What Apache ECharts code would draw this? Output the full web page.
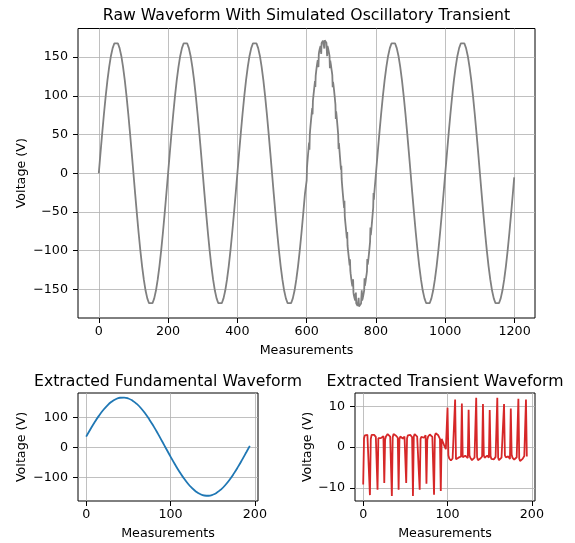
<!DOCTYPE html>
<html><head><meta charset="utf-8">
<script src="https://cdn.jsdelivr.net/npm/echarts@6/dist/echarts.min.js"></script>
<style>html,body{margin:0;padding:0;background:#fff}#c{width:575px;height:543px}</style>
</head><body><div id="c"></div>
<script>
// ---------- Data ----------
// Raw waveform, x = 0..595 (step 5)
const rawStep = 5;
const rawBefore = [
0, 26.6, 52.5, 77.2, 99.9, 120.2, 137.5, 151.5, 161.7, 167.9, 170, 167.9, 161.7, 151.5, 137.5, 120.2, 99.9, 77.2, 52.5, 26.6,
0, -26.6, -52.5, -77.2, -99.9, -120.2, -137.5, -151.5, -161.7, -167.9, -170, -167.9, -161.7, -151.5, -137.5, -120.2, -99.9, -77.2, -52.5, -26.6,
0, 26.6, 52.5, 77.2, 99.9, 120.2, 137.5, 151.5, 161.7, 167.9, 170, 167.9, 161.7, 151.5, 137.5, 120.2, 99.9, 77.2, 52.5, 26.6,
0, -26.6, -52.5, -77.2, -99.9, -120.2, -137.5, -151.5, -161.7, -167.9, -170, -167.9, -161.7, -151.5, -137.5, -120.2, -99.9, -77.2, -52.5, -26.6,
0, 26.6, 52.5, 77.2, 99.9, 120.2, 137.5, 151.5, 161.7, 167.9, 170, 167.9, 161.7, 151.5, 137.5, 120.2, 99.9, 77.2, 52.5, 26.6,
0, -26.6, -52.5, -77.2, -99.9, -120.2, -137.5, -151.5, -161.7, -167.9, -170, -167.9, -161.7, -151.5, -137.5, -120.2, -99.9, -77.2, -52.5, -26.6
];
// Raw waveform with the transient, x = 600..794 (step 1)
const rawWindowStart = 600;
const rawWindow = [
-9.2, 7.5, 13.6, 19.1, 24.5, 29.6, 34.8, 39.7, 30.5, 49.4,
55.5, 60.9, 65.8, 70.5, 75.2, 79.7, 84.2, 76.0, 93.3, 98.1,
102.3, 106.4, 110.5, 114.8, 119.1, 111.4, 125.8, 130.1, 134.0, 137.5,
140.6, 143.5, 146.1, 148.6, 137.0, 153.9, 157.0, 159.3, 161.2, 162.8,
164.3, 165.6, 154.2, 167.9, 169.6, 170.4, 171.0, 171.3, 171.9, 172.5,
172.8, 161.1, 171.9, 172.1, 171.9, 171.1, 170.0, 168.6, 167.1, 151.3,
164.3, 163.2, 161.1, 158.8, 156.4, 153.9, 151.2, 135.8, 145.5, 143.1,
139.9, 136.5, 133.3, 130.2, 126.8, 111.2, 118.2, 115.0, 111.4, 107.3,
102.9, 98.4, 93.6, 88.8, 70.2, 80.0, 75.8, 71.0, 65.8, 60.5,
55.0, 49.4, 31.5, 39.1, 33.4, 27.6, 21.7, 16.0, 10.2, 4.7,
9.7, -7.3, -13.5, -19.2, -24.6, -29.7, -34.7, -39.7, -44.8, -35.7,
-55.5, -60.9, -65.6, -70.1, -74.7, -79.4, -84.2, -75.8, -93.6, -98.0,
-102.1, -106.3, -110.6, -114.8, -119.1, -111.0, -125.9, -130.1, -134.0, -137.5,
-140.6, -143.5, -146.1, -148.6, -136.9, -153.9, -157.0, -159.3, -161.2, -162.8,
-164.3, -165.6, -154.1, -167.9, -169.6, -170.4, -171.0, -171.3, -171.9, -172.5,
-160.9, -172.1, -172.6, -172.4, -171.9, -170.9, -169.7, -168.3, -167.0, -151.2,
-164.3, -163.2, -161.1, -158.8, -156.4, -153.9, -151.2, -135.7, -145.5, -143.1,
-139.9, -136.5, -133.3, -130.2, -126.8, -110.7, -118.2, -115.0, -111.4, -107.3,
-102.9, -98.4, -93.6, -88.8, -70.0, -80.0, -75.8, -71.0, -65.8, -60.5,
-55.0, -49.6, -44.7, -25.4, -34.2
];
// Raw waveform, x = 795..1195 (step 5)
const rawAfterStart = 795;
const rawAfter = [
-26.6,
0, 26.6, 52.5, 77.2, 99.9, 120.2, 137.5, 151.5, 161.7, 167.9, 170, 167.9, 161.7, 151.5, 137.5, 120.2, 99.9, 77.2, 52.5, 26.6,
0, -26.6, -52.5, -77.2, -99.9, -120.2, -137.5, -151.5, -161.7, -167.9, -170, -167.9, -161.7, -151.5, -137.5, -120.2, -99.9, -77.2, -52.5, -26.6,
0, 26.6, 52.5, 77.2, 99.9, 120.2, 137.5, 151.5, 161.7, 167.9, 170, 167.9, 161.7, 151.5, 137.5, 120.2, 99.9, 77.2, 52.5, 26.6,
0, -26.6, -52.5, -77.2, -99.9, -120.2, -137.5, -151.5, -161.7, -167.9, -170, -167.9, -161.7, -151.5, -137.5, -120.2, -99.9, -77.2, -52.5, -26.6
];
const rawLast = [1199, -5.3];

// Extracted fundamental, x = 0..190 (step 5) + last sample at 194
const fundStep = 5;
const fundamental = [
36.5, 61.3, 84.8, 106.2, 125.0, 140.9, 153.4, 162.2, 167.0, 167.8,
164.6, 157.3, 146.3, 131.8, 114.0, 93.6, 70.9, 46.5, 21.1, -4.8,
-30.5, -55.3, -78.8, -100.2, -119.0, -134.9, -147.4, -156.2, -161.0, -161.8,
-158.6, -151.3, -140.3, -125.8, -108.0, -87.6, -64.9, -40.5, -15.1
];
const fundLast = [194, 5.6];

// Extracted transient, x = 0..194 (step 1)
const transient = [
-9.2, 2.2, 2.9, 3.1, 3.2, 3.0, 2.9, 2.6, -11.8, 2.0,
3.0, 3.3, 3.2, 3.0, 2.8, 2.5, 2.3, -10.5, 2.2, 2.5,
2.4, 2.2, 2.1, 2.4, 2.7, -8.8, 1.9, 2.6, 3.0, 3.2,
3.1, 2.9, 2.6, 2.3, -12.0, 2.4, 3.2, 3.3, 3.1, 2.8,
2.6, 2.3, -10.5, 2.0, 2.6, 2.5, 2.3, 2.1, 2.2, 2.6,
2.8, -8.8, 2.2, 2.9, 3.2, 3.2, 3.0, 2.7, 2.4, -12.0,
2.6, 3.2, 3.0, 2.8, 2.6, 2.4, 2.2, -10.5, 2.0, 2.5,
2.4, 2.2, 2.3, 2.7, 2.9, -9.0, 1.8, 2.6, 3.0, 3.1,
3.0, 2.8, 2.5, 2.3, -11.7, 2.8, 3.4, 3.5, 3.2, 2.9,
2.5, 2.0, -10.8, 2.0, 1.5, 1.0, 0.4, 0.0, -0.5, -0.6,
9.7, -2.0, -2.8, -3.2, -3.3, -3.1, -2.8, -2.6, -2.5, 11.7,
-3.0, -3.3, -3.0, -2.6, -2.3, -2.2, -2.3, 10.7, -2.5, -2.4,
-2.2, -2.1, -2.2, -2.4, -2.7, 9.2, -2.0, -2.6, -3.0, -3.2,
-3.1, -2.9, -2.6, -2.3, 12.1, -2.4, -3.2, -3.3, -3.1, -2.8,
-2.6, -2.3, 10.6, -2.0, -2.6, -2.5, -2.3, -2.1, -2.2, -2.6,
9.1, -2.2, -2.9, -3.2, -3.2, -3.0, -2.7, -2.4, -2.3, 12.1,
-2.6, -3.2, -3.0, -2.8, -2.6, -2.4, -2.2, 10.6, -2.0, -2.5,
-2.4, -2.2, -2.3, -2.7, -2.9, 9.5, -1.8, -2.6, -3.0, -3.1,
-3.0, -2.8, -2.5, -2.3, 11.9, -2.8, -3.4, -3.5, -3.2, -2.9,
-2.5, -2.2, -2.4, 11.7, -2.3
];

// Tick values
const rawXTicks = [0, 200, 400, 600, 800, 1000, 1200];
const rawYTicks = [-150, -100, -50, 0, 50, 100, 150];
const subXTicks = [0, 100, 200];
const fundYTicks = [-100, 0, 100];
const transYTicks = [-10, 0, 10];

// ---------- Build series data ----------
const rawData = rawBefore.map((v, i) => [i * rawStep, v])
  .concat(rawWindow.map((v, i) => [rawWindowStart + i, v]))
  .concat(rawAfter.map((v, i) => [rawAfterStart + i * rawStep, v]))
  .concat([rawLast]);
const fundData = fundamental.map((v, i) => [i * fundStep, v]).concat([fundLast]);
const transData = transient.map((v, i) => [i, v]);

// ---------- Styling ----------
const FONT = 'DejaVu Sans';
const TICK_FS = 12.7;
const TITLE_FS = 15.7;
const minus = v => String(v).replace('-', '\u2212');

function xAxisCfg(gi, min, max, ticks) {
  return {
    type: 'value', gridIndex: gi, min: min, max: max, position: 'bottom',
    axisLine: { show: false, onZero: false },
    axisTick: { show: true, length: 5, customValues: ticks, lineStyle: { color: '#000', width: 1 } },
    axisLabel: { customValues: ticks, margin: 7, fontSize: TICK_FS, color: '#000', fontFamily: FONT, formatter: minus },
    splitLine: { show: true, lineStyle: { color: '#b0b0b0', width: 0.8 } },
    name: 'Measurements', nameLocation: 'middle', nameGap: 26, nameMoveOverlap: false,
    nameTextStyle: { fontSize: TICK_FS, color: '#000', fontFamily: FONT }
  };
}
function yAxisCfg(gi, min, max, ticks, gap) {
  return {
    type: 'value', gridIndex: gi, min: min, max: max, position: 'left',
    axisLine: { show: false, onZero: false },
    axisTick: { show: true, length: 5, customValues: ticks, lineStyle: { color: '#000', width: 1 } },
    axisLabel: { customValues: ticks, margin: 10, fontSize: TICK_FS, color: '#000', fontFamily: FONT, formatter: minus },
    splitLine: { show: true, lineStyle: { color: '#b0b0b0', width: 0.8 } },
    name: 'Voltage (V)', nameLocation: 'middle', nameGap: gap, nameRotate: 90, nameMoveOverlap: false,
    nameTextStyle: { fontSize: TICK_FS, color: '#000', fontFamily: FONT }
  };
}
const gridBase = { show: true, borderColor: '#000', borderWidth: 1, backgroundColor: 'transparent', containLabel: false };

const chart = echarts.init(document.getElementById('c'), null, { renderer: 'canvas' });
chart.setOption({
  animation: false,
  backgroundColor: '#fff',
  grid: [
    Object.assign({ left: 78, top: 28.5, width: 457, height: 289.5 }, gridBase),
    Object.assign({ left: 78, top: 393, width: 180, height: 108 }, gridBase),
    Object.assign({ left: 355, top: 393, width: 180, height: 108 }, gridBase)
  ],
  xAxis: [
    xAxisCfg(0, -60, 1259, rawXTicks),
    xAxisCfg(1, -9.7, 203.7, subXTicks),
    xAxisCfg(2, -9.7, 203.7, subXTicks)
  ],
  yAxis: [
    yAxisCfg(0, -187, 187, rawYTicks, 49.5),
    yAxisCfg(1, -179.5, 183, fundYTicks, 50),
    yAxisCfg(2, -13.25, 13.3, transYTicks, 41)
  ],
  series: [
    { type: 'line', xAxisIndex: 0, yAxisIndex: 0, data: rawData, showSymbol: false, symbol: 'none',
      lineStyle: { color: '#808080', width: 1.8 }, silent: true },
    { type: 'line', xAxisIndex: 1, yAxisIndex: 1, data: fundData, showSymbol: false, symbol: 'none', smooth: true,
      lineStyle: { color: '#1f77b4', width: 1.8 }, silent: true },
    { type: 'line', xAxisIndex: 2, yAxisIndex: 2, data: transData, showSymbol: false, symbol: 'none',
      lineStyle: { color: '#d62728', width: 1.8 }, silent: true }
  ],
  graphic: [
    { type: 'text', x: 306.5, y: 15.5, style: { text: 'Raw Waveform With Simulated Oscillatory Transient', fill: '#000',
      fontSize: TITLE_FS, fontFamily: FONT, align: 'center', verticalAlign: 'middle' } },
    { type: 'text', x: 168, y: 381.5, style: { text: 'Extracted Fundamental Waveform', fill: '#000',
      fontSize: TITLE_FS, fontFamily: FONT, align: 'center', verticalAlign: 'middle' } },
    { type: 'text', x: 445, y: 381.5, style: { text: 'Extracted Transient Waveform', fill: '#000',
      fontSize: TITLE_FS, fontFamily: FONT, align: 'center', verticalAlign: 'middle' } }
  ]
});
</script></body></html>
